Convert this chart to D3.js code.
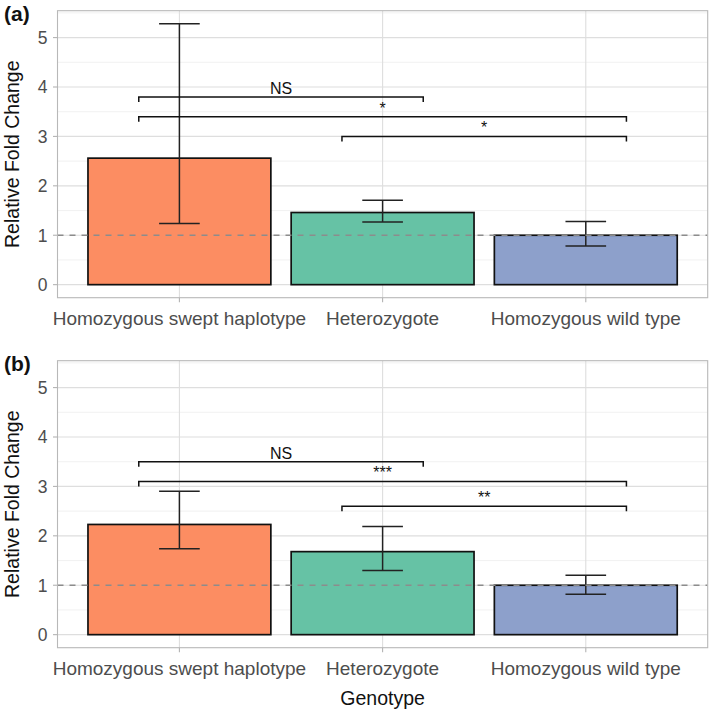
<!DOCTYPE html>
<html>
<head>
<meta charset="utf-8">
<script src="https://cdn.jsdelivr.net/npm/d3@7"></script>
<style>
  html, body { margin: 0; padding: 0; background: #fff; }
  text { font-family: "Liberation Sans", Arial, sans-serif; }
</style>
</head>
<body>
<svg id="chart" width="709" height="711"></svg>
<script>
// ---- Data ----
const categories = ["Homozygous swept haplotype", "Heterozygote", "Homozygous wild type"];
const colors = ["#FC8D62", "#66C2A5", "#8DA0CB"];

const meansA = [2.56, 1.46, 1.0];
const lowerA = [1.24, 1.27, 0.78];
const upperA = [5.28, 1.71, 1.28];

const meansB = [2.23, 1.68, 1.0];
const lowerB = [1.74, 1.30, 0.82];
const upperB = [2.90, 2.19, 1.20];

const comparisons = [[0, 1], [0, 2], [1, 2]];
const sigYA = [3.8, 3.4, 3.0];
const sigLabelsA = ["NS", "*", "*"];
const sigYB = [3.5, 3.1, 2.6];
const sigLabelsB = ["NS", "***", "**"];

const yTicks = [0, 1, 2, 3, 4, 5];
const yMinor = [0.5, 1.5, 2.5, 3.5, 4.5, 5.5];
const panelLabels = ["(a)", "(b)"];
const yTitle = "Relative Fold Change";
const xTitle = "Genotype";

// ---- Layout ----
const svg = d3.select("#chart");
const left = 57.5, right = 707.7;
const panelH = 287;
const panelTops = [10.7, 360.7];

const dataMax = d3.max(upperA.concat(upperB));
const expand = dataMax * 0.05;
const yDomain = [0 - expand, dataMax + expand];

// discrete x with 0.6 expansion
const nCat = categories.length;
const xc = d3.scaleLinear().domain([0.4, nCat + 0.6]).range([left, right]);

const panels = [
  {means: meansA, lower: lowerA, upper: upperA, sigY: sigYA, sigLab: sigLabelsA},
  {means: meansB, lower: lowerB, upper: upperB, sigY: sigYB, sigLab: sigLabelsB}
];

panels.forEach((p, pi) => {
  const top = panelTops[pi];
  const bottom = top + panelH;
  const y = d3.scaleLinear().domain(yDomain).range([bottom, top]);
  const g = svg.append("g");

  // minor grid
  g.selectAll(".minor").data(yMinor.filter(v => v < yDomain[1])).enter().append("line")
    .attr("x1", left).attr("x2", right)
    .attr("y1", d => y(d)).attr("y2", d => y(d))
    .attr("stroke", "#EDEDED").attr("stroke-width", 0.8);
  // major grid y
  g.selectAll(".major").data(yTicks).enter().append("line")
    .attr("x1", left).attr("x2", right)
    .attr("y1", d => y(d)).attr("y2", d => y(d))
    .attr("stroke", "#DEDEDE").attr("stroke-width", 1.1);
  // major grid x
  g.selectAll(".majx").data(categories).enter().append("line")
    .attr("x1", (d, i) => xc(i + 1)).attr("x2", (d, i) => xc(i + 1))
    .attr("y1", top).attr("y2", bottom)
    .attr("stroke", "#DEDEDE").attr("stroke-width", 1.1);

  // bars
  const bw = 0.9;
  g.selectAll(".bar").data(p.means).enter().append("rect")
    .attr("x", (d, i) => xc(i + 1 - bw / 2))
    .attr("width", xc(1 + bw / 2) - xc(1 - bw / 2))
    .attr("y", d => y(d))
    .attr("height", d => y(0) - y(d))
    .attr("fill", (d, i) => colors[i])
    .attr("stroke", "#111").attr("stroke-width", 1.7);

  // error bars
  const ew = 0.2;
  p.means.forEach((m, i) => {
    const cx = xc(i + 1);
    const x0 = xc(i + 1 - ew / 2), x1 = xc(i + 1 + ew / 2);
    const eg = g.append("g").attr("stroke", "#222").attr("stroke-width", 1.5);
    eg.append("line").attr("x1", cx).attr("x2", cx).attr("y1", y(p.lower[i])).attr("y2", y(p.upper[i]));
    eg.append("line").attr("x1", x0).attr("x2", x1).attr("y1", y(p.lower[i])).attr("y2", y(p.lower[i]));
    eg.append("line").attr("x1", x0).attr("x2", x1).attr("y1", y(p.upper[i])).attr("y2", y(p.upper[i]));
  });

  // dashed reference line
  g.append("line")
    .attr("x1", left).attr("x2", right)
    .attr("y1", y(1)).attr("y2", y(1))
    .attr("stroke", "#8C8C8C").attr("stroke-width", 1.3)
    .attr("stroke-dasharray", "6,6");

  // significance brackets
  const off = 0.2;
  const tip = 5;
  comparisons.forEach((c, k) => {
    const xa = xc(c[0] + 1 - off), xb = xc(c[1] + 1 + off);
    const yy = y(p.sigY[k]);
    g.append("path")
      .attr("d", `M${xa},${yy + tip}L${xa},${yy}L${xb},${yy}L${xb},${yy + tip}`)
      .attr("fill", "none").attr("stroke", "#111").attr("stroke-width", 1.5);
    g.append("text")
      .attr("x", (xa + xb) / 2).attr("y", yy - 3)
      .attr("text-anchor", "middle")
      .attr("font-size", 16).attr("fill", "#111")
      .text(p.sigLab[k]);
  });

  // panel border
  g.append("rect").attr("x", left).attr("y", top)
    .attr("width", right - left).attr("height", panelH)
    .attr("fill", "none").attr("stroke", "#B8B8B8").attr("stroke-width", 1.1);

  // y axis ticks and labels
  yTicks.forEach(t => {
    g.append("line").attr("x1", left - 4.5).attr("x2", left)
      .attr("y1", y(t)).attr("y2", y(t))
      .attr("stroke", "#B3B3B3").attr("stroke-width", 1.1);
    g.append("text").attr("x", left - 10).attr("y", y(t))
      .attr("dy", "0.36em").attr("text-anchor", "end")
      .attr("font-size", 17.5).attr("fill", "#4D4D4D").text(t);
  });

  // x ticks and labels
  categories.forEach((c, i) => {
    g.append("line").attr("x1", xc(i + 1)).attr("x2", xc(i + 1))
      .attr("y1", bottom).attr("y2", bottom + 4.5)
      .attr("stroke", "#B3B3B3").attr("stroke-width", 1.1);
    g.append("text").attr("x", xc(i + 1)).attr("y", bottom + 27.5)
      .attr("text-anchor", "middle")
      .attr("font-size", 19).attr("fill", "#4D4D4D").text(c);
  });

  // y title
  g.append("text")
    .attr("transform", `translate(19,${(top + bottom) / 2}) rotate(-90)`)
    .attr("text-anchor", "middle")
    .attr("font-size", 19.5).attr("fill", "#111").text(yTitle);

  // panel label
  g.append("text").attr("x", 4).attr("y", top + 10.5)
    .attr("font-size", 21).attr("font-weight", "bold").attr("fill", "#111")
    .text(panelLabels[pi]);
});

// x title
svg.append("text").attr("x", (left + right) / 2).attr("y", 705)
  .attr("text-anchor", "middle").attr("font-size", 19.5).attr("fill", "#111")
  .text(xTitle);
</script>
</body>
</html>
